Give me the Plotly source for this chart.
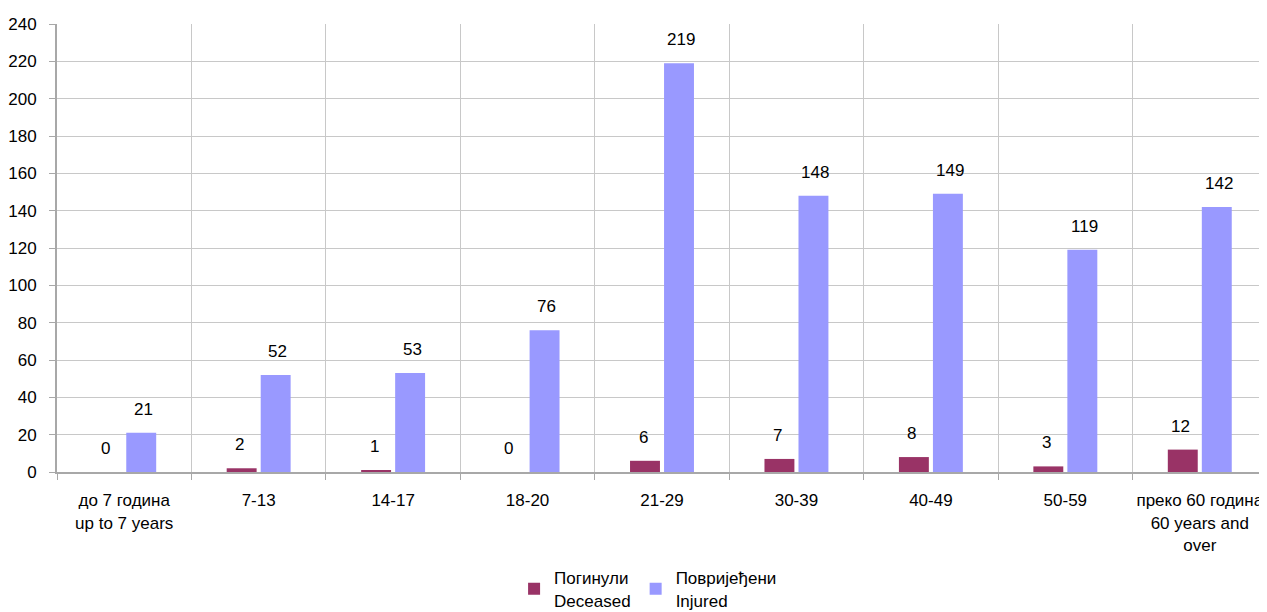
import plotly.graph_objects as go

categories = ["до 7 година<br>up to 7 years", "7-13", "14-17", "18-20", "21-29",
              "30-39", "40-49", "50-59", "преко 60 година<br>60 years and<br>over"]
deceased = [0, 2, 1, 0, 6, 7, 8, 3, 12]
injured = [21, 52, 53, 76, 219, 148, 149, 119, 142]
series_names = ["Погинули<br>Deceased", "Повријеђени<br>Injured"]
y_ticks = list(range(0, 241, 20))

font = "Liberation Sans, Arial, sans-serif"
fsize = 17
c_dec = "#993366"
c_inj = "#9999FF"

fig = go.Figure()
fig.add_trace(go.Bar(x=categories, y=deceased, name=series_names[0], marker_color=c_dec,
                     marker_line_width=0))
fig.add_trace(go.Bar(x=categories, y=injured, name=series_names[1], marker_color=c_inj,
                     marker_line_width=0))

annotations = []
for vals, shift in ((deceased, -19), (injured, 19)):
    for c, v in zip(categories, vals):
        annotations.append(dict(x=c, y=v, xref="x", yref="y", text=str(v), showarrow=False,
                                xshift=shift, yshift=12, yanchor="bottom",
                                font=dict(family=font, size=fsize, color="#000000")))

# page body has an 8px margin, so the figure is sized to fill the rest of the window
fig.update_layout(
    width=1259, height=604,
    margin=dict(l=49, r=0, t=16, b=140, autoexpand=False),
    paper_bgcolor="white", plot_bgcolor="white",
    barmode="group", bargap=0.494, bargroupgap=0.12,
    font=dict(family=font, size=fsize, color="#000000"),
    showlegend=True,
    legend=dict(orientation="h", x=0.4885, xanchor="center", y=-0.197, yanchor="top",
                font=dict(family=font, size=fsize), traceorder="normal",
                itemwidth=30),
    annotations=annotations,
    xaxis=dict(type="category", tickson="boundaries", showgrid=True, gridcolor="#c8c8c8",
               gridwidth=1, ticks="outside", ticklen=6, tickcolor="#a8a8a8",
               showline=True, linecolor="#a8a8a8", linewidth=2, automargin=False,
               ticklabelstandoff=12, tickangle=0,
               tickfont=dict(family=font, size=fsize), fixedrange=True),
    yaxis=dict(range=[0, 240], tickvals=y_ticks, showgrid=True, gridcolor="#c8c8c8",
               gridwidth=1, ticks="outside", ticklen=6, tickcolor="#a8a8a8",
               showline=True, linecolor="#a8a8a8", linewidth=2, zeroline=False,
               automargin=False, ticklabelstandoff=9,
               tickfont=dict(family=font, size=fsize)),
)

fig.write_html("out.html")
